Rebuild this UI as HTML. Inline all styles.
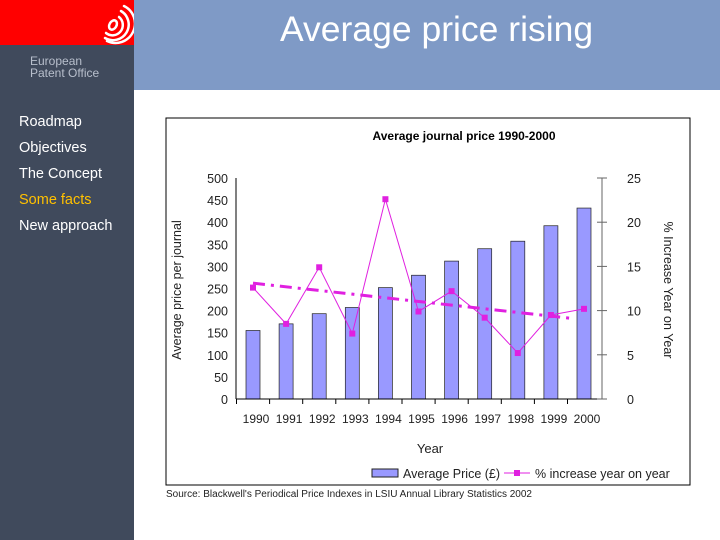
<!DOCTYPE html>
<html><head><meta charset="utf-8"><style>
body{margin:0;width:720px;height:540px;overflow:hidden;background:#fff;font-family:"Liberation Sans",sans-serif;position:relative}
.a{position:absolute}
#side{left:0;top:0;width:134px;height:540px;background:#404a5c}
#red{left:0;top:0;width:134px;height:45px;background:#f00}
#top{left:134px;top:0;width:586px;height:90px;background:#7f9ac6}
.nav{left:19px;font-size:14.5px;color:#fff}
</style></head><body>
<div class="a" id="side"></div>
<div class="a" id="red">
<svg width="134" height="45"><g fill="none" stroke="#fff" stroke-width="2.5" stroke-linecap="round"><ellipse cx="113" cy="25" rx="3.5" ry="5" transform="rotate(30 113 25)"/><path d="M106 33 A9 9 0 0 0 119 17"/><path d="M105 38 A14 14 0 0 0 121 11"/><path d="M107 41 A18 18 0 0 0 124 6"/></g></svg></div>
<div class="a" style="left:30px;top:55px;font-size:12px;line-height:12px;color:#b8bfcc">European<br>Patent Office</div>
<div class="a" id="top"></div>
<div class="a" style="left:280px;top:9px;font-size:35.5px;color:#fff">Average price rising</div>
<div class="a nav" style="top:114px">Roadmap</div>
<div class="a nav" style="top:140px">Objectives</div>
<div class="a nav" style="top:166px">The Concept</div>
<div class="a nav" style="top:192px;color:#ffc000">Some facts</div>
<div class="a nav" style="top:218px">New approach</div>
<svg class="a" style="left:0;top:0" width="720" height="540" id="chart"></svg>
<script>
const years=['1990','1991','1992','1993','1994','1995','1996','1997','1998','1999','2000'];
const prices=[155,170,193,207,252,280,312,340,357,392,432];
const pct=[12.6,8.5,14.9,7.4,22.6,9.9,12.2,9.2,5.2,9.5,10.2];
const leftTicks=[0,50,100,150,200,250,300,350,400,450,500];
const rightTicks=[0,5,10,15,20,25];
const S='http://www.w3.org/2000/svg',svg=document.getElementById('chart');
function mk(t,a,txt){const e=document.createElementNS(S,t);for(const k in a)e.setAttribute(k,a[k]);if(txt!=null)e.textContent=txt;svg.appendChild(e);return e;}
const x0=236,x1=602,yB=399,yT=178;
const xs=i=>253+i*(584-253)/(years.length-1);
const yl=v=>yB-(v/500)*(yB-yT);
const yr=v=>yB-(v/25)*(yB-yT);
let e=mk('rect',{x:166,y:118,width:524,height:367,fill:'#fff',stroke:'#000','stroke-width':1});

e=mk('text',{x:464,y:140,'text-anchor':'middle','font-size':12,'font-weight':'bold'},'Average journal price 1990-2000');

prices.forEach((v,i)=>{e=mk('rect',{x:xs(i)-7,y:yl(v),width:14,height:yB-yl(v),fill:'#9999ff',stroke:'#222','stroke-width':0.7});
});
mk('line',{x1:x0,y1:yT,x2:x0,y2:yB,stroke:'#000'});
mk('line',{x1:x0,y1:yB,x2:x1,y2:yB,stroke:'#000'});
mk('line',{x1:x1,y1:yT,x2:x1,y2:yB,stroke:'#666'});
leftTicks.forEach(v=>{e=mk('text',{x:228,y:yl(v)+5,'text-anchor':'end','font-size':12.5,fill:'#222'},v);
});
rightTicks.forEach(v=>{mk('line',{x1:x1-5,y1:yr(v),x2:x1+5,y2:yr(v),stroke:'#666'});
e=mk('text',{x:627,y:yr(v)+5,'font-size':12.5,fill:'#222'},v);
});
years.forEach((y,i)=>{mk('line',{x1:xs(i)-16.5,y1:yB,x2:xs(i)-16.5,y2:yB+5,stroke:'#000'});
e=mk('text',{x:xs(i)+3,y:423,'text-anchor':'middle','font-size':12,fill:'#222'},y);
});
const n=pct.length,mx=(n-1)/2,my=pct.reduce((a,b)=>a+b)/n;
let num=0,den=0;pct.forEach((v,i)=>{num+=(i-mx)*(v-my);den+=(i-mx)*(i-mx);});
const sl=num/den,ic=my-sl*mx;
e=mk('line',{x1:xs(0),y1:yr(ic),x2:xs(n-1)-12,y2:yr(ic+sl*(n-1)),stroke:'#e020e0','stroke-width':3,'stroke-dasharray':'12,6,3,6'});

e=mk('polyline',{points:pct.map((v,i)=>xs(i)+','+yr(v)).join(' '),fill:'none',stroke:'#e020e0','stroke-width':1});

pct.forEach((v,i)=>{e=mk('rect',{x:xs(i)-3,y:yr(v)-3,width:6,height:6,fill:'#e020e0'});
});
e=mk('text',{x:430,y:453,'text-anchor':'middle','font-size':13,fill:'#222'},'Year');

e=mk('text',{transform:'translate(181,290) rotate(-90)','text-anchor':'middle','font-size':12.5,fill:'#222'},'Average price per journal');

e=mk('text',{transform:'translate(664,290) rotate(90)','text-anchor':'middle','font-size':12.5,fill:'#222'},'% Increase Year on Year');

e=mk('rect',{x:372,y:469,width:26,height:8,fill:'#9999ff',stroke:'#222'});

e=mk('text',{x:403,y:478,'font-size':12.5,fill:'#222'},'Average Price (£)');

mk('line',{x1:504,y1:473,x2:530,y2:473,stroke:'#e020e0'});
mk('rect',{x:514,y:470,width:6,height:6,fill:'#e020e0'});
e=mk('text',{x:535,y:478,'font-size':12.5,fill:'#222'},'% increase year on year');

e=mk('text',{x:166,y:497,'font-size':10,fill:'#222'},"Source: Blackwell's Periodical Price Indexes in LSIU Annual Library Statistics 2002");

</script>
</body></html>
